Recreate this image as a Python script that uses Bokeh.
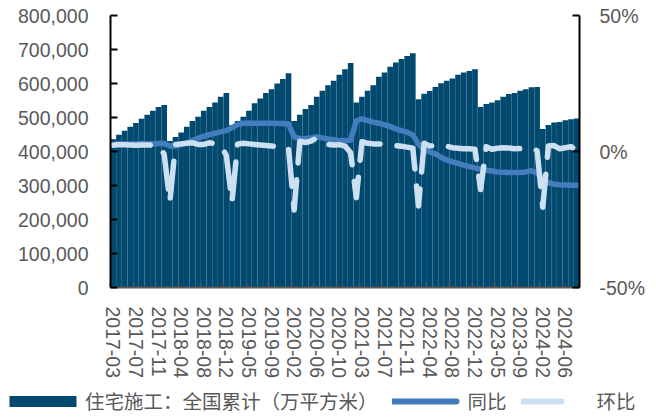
from bokeh.plotting import figure
from bokeh.layouts import column
from bokeh.models import (Range1d, LinearAxis, FixedTicker, NumeralTickFormatter,
                          Legend, LegendItem, ColumnDataSource)
from bokeh.embed import file_html
from bokeh.resources import INLINE

# Monthly periods (January is reported together with February)
months = [
    "2017-03", "2017-04", "2017-05", "2017-06", "2017-07", "2017-08", "2017-09", "2017-10", "2017-11", "2017-12",
    "2018-02", "2018-03", "2018-04", "2018-05", "2018-06", "2018-07", "2018-08", "2018-09", "2018-10", "2018-11", "2018-12",
    "2019-02", "2019-03", "2019-04", "2019-05", "2019-06", "2019-07", "2019-08", "2019-09", "2019-10", "2019-11", "2019-12",
    "2020-02", "2020-03", "2020-04", "2020-05", "2020-06", "2020-07", "2020-08", "2020-09", "2020-10", "2020-11", "2020-12",
    "2021-02", "2021-03", "2021-04", "2021-05", "2021-06", "2021-07", "2021-08", "2021-09", "2021-10", "2021-11", "2021-12",
    "2022-02", "2022-03", "2022-04", "2022-05", "2022-06", "2022-07", "2022-08", "2022-09", "2022-10", "2022-11", "2022-12",
    "2023-02", "2023-03", "2023-04", "2023-05", "2023-06", "2023-07", "2023-08", "2023-09", "2023-10", "2023-11", "2023-12",
    "2024-02", "2024-03", "2024-04", "2024-05", "2024-06", "2024-07", "2024-08",
]

# Residential floor space under construction, national cumulative (10k m2)
area = [
    436000, 449000, 461000, 473000, 484000, 496000, 508000, 520000, 531000, 537000,
    431000, 443000, 456000, 473000, 490000, 502000, 520000, 531000, 544000, 561000, 572000,
    478000, 490000, 502000, 520000, 542000, 556000, 572000, 583000, 600000, 613000, 630000,
    490000, 508000, 525000, 537000, 561000, 579000, 595000, 608000, 626000, 642000, 660000,
    544000, 561000, 579000, 595000, 620000, 632000, 649000, 662000, 672000, 681000, 689000,
    554000, 570000, 578000, 590000, 601000, 608000, 615000, 626000, 632000, 637000, 642000,
    531000, 540000, 544000, 551000, 561000, 569000, 572000, 579000, 583000, 589000, 590000,
    466000, 478000, 485000, 487000, 492000, 495000, 497000,
]

# Year-on-year change (%)
yoy = [
    2.6, 2.7, 2.8, 2.8, 2.8, 2.9, 2.8, 2.8, 2.9, 2.9,
    2.0, 2.0, 2.5, 3.1, 4.0, 4.9, 5.6, 6.2, 6.7, 7.2, 7.7,
    8.8, 9.9, 10.4, 10.5, 10.4, 10.4, 10.4, 10.4, 10.3, 10.3, 10.1,
    5.4, 4.7, 4.8, 5.0, 5.3, 5.0, 4.6, 4.3, 4.0, 4.0, 4.1,
    11.3, 12.0, 11.4, 10.8, 10.4, 9.8, 9.2, 8.3, 7.7, 7.1, 6.1,
    2.8, 0.6, -0.2, -0.9, -2.1, -3.1, -3.8, -4.4, -5.0, -5.5, -6.0,
    -6.5, -6.9, -7.2, -7.5, -7.6, -7.7, -7.7, -7.7, -7.5, -7.1, -7.9,
    -10.5, -11.5, -12.0, -12.2, -12.3, -12.4, -12.4,
]

# Month-on-month change (%)
mom = [
    2.3, 2.6, 2.5, 2.4, 2.3, 2.4, 2.4, 2.3, 2.2, -1.0,
    -18.6, 2.6, 2.8, 3.0, 3.2, 2.6, 2.6, 3.2, 2.8, 2.4, -1.5,
    -18.6, 2.8, 3.0, 2.8, 2.6, 2.4, 2.2, 2.0, 1.8, 1.7, 1.4,
    -21.5, 3.8, 3.3, 3.8, 5.0, 3.5, 2.6, 2.4, 2.5, 2.0, -0.5,
    -17.0, 3.6, 3.0, 2.8, 2.8, 2.5, 2.3, 2.2, 1.9, 1.6, 1.2,
    -20.0, 3.0, 2.0, 2.2, 2.4, 2.0, 1.4, 1.2, 1.0, 1.0, 0.8,
    -14.0, 1.8, 0.8, 1.2, 1.4, 1.3, 1.0, 1.1, 1.0, 1.2, 0.3,
    -20.5, 2.0, 2.2, 1.0, 1.4, 1.8, 0.4,
]

series_names = ["住宅施工：全国累计（万平方米）", "同比", "环比"]

tick_step = 4
tick_idx = list(range(0, len(months), tick_step))
tick_labels = [months[i] for i in tick_idx]

BAR = "#02496F"
YOY_C = "#447DBE"
MOM_C = "#CDE0F2"
GREY = "#595959"
TICK_FONT = "Liberation Sans"
CJK_FONT = "Noto Sans CJK SC"

src = ColumnDataSource(dict(x=list(range(len(months))), area=area, yoy=yoy, mom=mom))

p = figure(width=656, height=385, output_backend="svg", toolbar_location=None,
           x_range=Range1d(-0.5, len(months) - 0.5), y_range=Range1d(0, 800000),
           min_border_left=110, min_border_right=77, min_border_top=15, min_border_bottom=98,
           x_axis_type=None, y_axis_type=None)
p.frame_align = False
p.outline_line_color = None
p.grid.visible = False
p.extra_y_ranges = {"pct": Range1d(-50, 50)}

# bars
p.vbar(x="x", top="area", width=1.0, source=src, fill_color=BAR, line_color=None)

# YoY and MoM lines on the right axis
p.line("x", "yoy", source=src, y_range_name="pct", line_color=YOY_C, line_width=5.5,
       line_join="round", line_cap="round")
p.line("x", "mom", source=src, y_range_name="pct", line_color=MOM_C, line_width=5.5,
       line_join="round", line_cap="round", line_dash="37 17")

# left axis
yl = LinearAxis(ticker=FixedTicker(ticks=list(range(0, 800001, 100000))),
                formatter=NumeralTickFormatter(format="0,0"))
yl.axis_line_color = "black"
yl.axis_line_width = 2
yl.major_tick_line_color = "black"
yl.major_tick_line_width = 2
yl.major_tick_in = 7
yl.major_tick_out = 0
yl.minor_tick_line_color = None
yl.major_label_standoff = 22
yl.major_label_text_font = TICK_FONT
yl.major_label_text_font_size = "19.5px"
yl.major_label_text_color = GREY
p.add_layout(yl, "left")

# right axis
yr = LinearAxis(y_range_name="pct", ticker=FixedTicker(ticks=[-50, 0, 50]))
yr.major_label_overrides = {-50: "-50%", 0: "0%", 50: "50%"}
yr.axis_line_color = "black"
yr.axis_line_width = 2
yr.major_tick_line_color = "black"
yr.major_tick_line_width = 2
yr.major_tick_in = 7
yr.major_tick_out = 0
yr.minor_tick_line_color = None
yr.major_label_standoff = 20
yr.major_label_text_font = TICK_FONT
yr.major_label_text_font_size = "19.5px"
yr.major_label_text_color = GREY
p.add_layout(yr, "right")

# bottom axis: labels every 4th month, tick marks on the period boundaries
xa = LinearAxis(ticker=FixedTicker(ticks=tick_idx,
                                   minor_ticks=[i - 0.5 for i in tick_idx]))
xa.major_label_overrides = {i: lab for i, lab in zip(tick_idx, tick_labels)}
xa.major_label_orientation = "vertical"
xa.axis_line_color = GREY
xa.axis_line_width = 2
xa.major_tick_line_color = None
xa.minor_tick_line_color = GREY
xa.minor_tick_line_width = 1.5
xa.minor_tick_in = 5
xa.minor_tick_out = 0
xa.major_label_standoff = 13
xa.major_label_text_font = TICK_FONT
xa.major_label_text_font_size = "19.5px"
xa.major_label_text_color = GREY
p.add_layout(xa, "below")

# legend strip under the chart
lg = figure(width=656, height=32, output_backend="svg", toolbar_location=None,
            x_range=Range1d(0, 1), y_range=Range1d(0, 1),
            min_border_left=0, min_border_right=0, min_border_top=0, min_border_bottom=0,
            x_axis_type=None, y_axis_type=None)
lg.frame_align = False
lg.outline_line_color = None
lg.grid.visible = False

# styled stand-ins for the legend swatches (no visible points)
nan = float("nan")
sw_bar = lg.line([nan], [nan], line_color=BAR, line_width=11, line_dash="67 300")
sw_yoy = lg.line([nan], [nan], line_color=YOY_C, line_width=6, line_cap="round", line_dash="64 300")
sw_mom = lg.line([nan], [nan], line_color=MOM_C, line_width=6, line_cap="round", line_dash="40 300")

legend = Legend(items=[
    LegendItem(label=series_names[0], renderers=[sw_bar]),
    LegendItem(label=series_names[1], renderers=[sw_yoy]),
    LegendItem(label=series_names[2], renderers=[sw_mom]),
], orientation="horizontal", location=(9, 2))
legend.glyph_width = 70
legend.glyph_height = 20
legend.label_standoff = 6
legend.spacing = 14
legend.padding = 0
legend.margin = 0
legend.border_line_color = None
legend.background_fill_alpha = 0
legend.label_text_font = CJK_FONT
legend.label_text_font_size = "19.5px"
legend.label_text_color = GREY
legend.label_text_baseline = "middle"
lg.add_layout(legend, "center")

layout = column(p, lg, spacing=0)

open("out.html", "w").write(file_html(layout, INLINE))
